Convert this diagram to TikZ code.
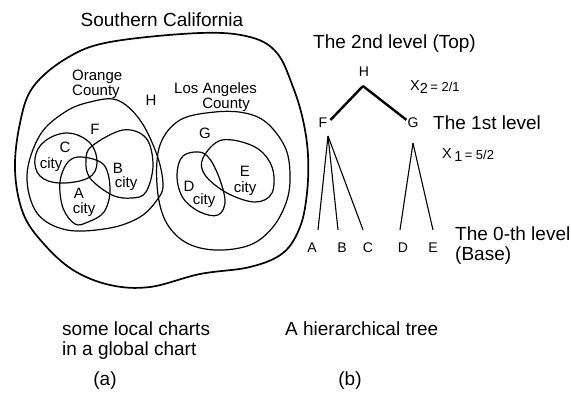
\documentclass[tikz,border=0pt]{standalone}
\usepackage{fontspec}
\setmainfont{Liberation Sans}
\begin{document}
\begin{tikzpicture}[x=1pt,y=-1pt,
  big/.style={font=\fontsize{19}{20}\selectfont, inner sep=0pt},
  lab/.style={font=\fontsize{15}{13.5}\selectfont, inner sep=0pt},
  tlab/.style={font=\fontsize{14}{16}\selectfont, inner sep=0pt},
  xlab/.style={font=\fontsize{14.5}{16}\selectfont, inner sep=0pt},
  region/.style={line width=1.2pt},
  outer/.style={line width=1.7pt},
  toplink/.style={line width=2.4pt},
  leaflink/.style={line width=1.1pt}]
\useasboundingbox (0,0) rectangle (571,397);

% ---------- (a) charts ----------
\node[big, anchor=base] (sc) at (162,26) {Southern California};

\draw[outer] plot[smooth cycle, tension=0.6] coordinates {
  (110,42) (200,33) (250,37) (277,53) (293,87) (303,120) (308,155)
  (307,193) (300,227) (283,253) (250,267) (200,274) (150,287)
  (110,285) (73,270) (43,243) (23,213) (15,170) (20,123) (33,87) (67,58)};

% Orange County
\draw[region] plot[smooth cycle, tension=0.6] coordinates {
  (117,100) (140,120) (157,155) (163,185) (157,200) (140,217) (110,228)
  (67,230) (37,213) (27,175) (40,135) (65,112) (90,102)};
% Los Angeles County
\draw[region] plot[smooth cycle, tension=0.6] coordinates {
  (215,112) (245,113) (267,123) (285,147) (290,173) (287,200) (273,227)
  (250,245) (215,250) (185,242) (165,220) (157,185) (160,145) (180,120)};

% C city
\draw[region] plot[smooth cycle, tension=0.65] coordinates {
  (45,141) (68,133) (90,143) (97,163) (88,178) (60,183) (40,176) (35,158)};
% A city
\draw[region] plot[smooth cycle, tension=0.6] coordinates {
  (82,157) (104,165) (110,190) (104,212) (88,222) (75,224) (63,208) (60,182) (68,162)};
% B city
\draw[region] plot[smooth cycle, tension=0.6] coordinates {
  (92,146) (123,130) (146,138) (153,165) (146,192) (132,198) (112,195) (90,178) (86,160)};
% D city
\draw[region] plot[smooth cycle, tension=0.6] coordinates {
  (183,156) (203,153) (216,170) (225,200) (218,215) (200,212) (183,198) (177,176)};
% E city
\draw[region] plot[smooth cycle, tension=0.6] coordinates {
  (222,140) (255,147) (272,167) (272,193) (255,202) (227,193) (205,175) (203,158)};

\node[lab, anchor=base west, align=left] (oc) at (72,95) {Orange\\County};
\node[lab, font=\fontsize{15}{15}\selectfont, anchor=base east, align=right] (la) at (257,108) {Los Angeles\\County\hspace*{7pt}};
\node[lab] (rH) at (151,100) {H};
\node[lab] (rF) at (95,129) {F};
\node[lab] (rG) at (205,133) {G};
\node[lab] (rC) at (65,147) {C};
\node[lab, anchor=base] (cC) at (51,168) {city};
\node[lab] (rB) at (118,168) {B};
\node[lab, anchor=base] (cB) at (126,187) {city};
\node[lab] (rA) at (79,193) {A};
\node[lab, anchor=base] (cA) at (84,213) {city};
\node[lab] (rD) at (189,186) {D};
\node[lab, anchor=base] (cD) at (204,204) {city};
\node[lab] (rE) at (245,171) {E};
\node[lab, anchor=base] (cE) at (245,192) {city};

\node[big, anchor=base west, align=left] (capa) at (62,355) {some local charts\\in a global chart};
\node[big, anchor=base] (pa) at (105,385) {(a)};

% ---------- (b) tree ----------
\node[big, anchor=base west] (l2) at (313,48) {The 2nd level (Top)};
\node[big, anchor=base west] (l1) at (433,129) {The 1st level};
\node[big, anchor=base west, align=left] (l0) at (455,260) {The 0-th level\\(Base)};

\node[tlab] (tH) at (364,72) {H};
\node[tlab] (tF) at (323,123) {F};
\node[tlab] (tG) at (413,123) {G};
\node[tlab] (tA) at (312,248) {A};
\node[tlab] (tB) at (342,248) {B};
\node[tlab] (tC) at (368,248) {C};
\node[tlab] (tD) at (403,248) {D};
\node[tlab] (tE) at (433,248) {E};

\node[xlab, anchor=base west] (x2) at (410,90) {X\raisebox{-3pt}{2}\,\raisebox{-1.5pt}{\fontsize{13}{14}\selectfont = 2/1}};
\node[xlab, anchor=base west] (x1) at (442,158) {X\raisebox{-3pt}{\,1}\,\raisebox{-1.5pt}{\fontsize{13}{14}\selectfont = 5/2}};

\draw[toplink, line cap=butt] ([xshift=-1pt, yshift=-9pt]tH.south) coordinate (hj) -- ([xshift=3pt, yshift=-2pt]tF.north east);
\draw[toplink] (hj) -- ([xshift=-1pt, yshift=-2pt]tG.north west);

\coordinate (fj) at ([xshift=5pt, yshift=-8pt]tF.south);
\coordinate (gj) at ([xshift=0pt, yshift=-15pt]tG.south);
\draw[leaflink] (fj) -- ([xshift=6pt, yshift=13pt]tA.north);
\draw[leaflink] (fj) -- ([xshift=-4pt, yshift=13pt]tB.north);
\draw[leaflink] (fj) -- ([xshift=-5pt, yshift=13pt]tC.north);
\draw[leaflink] (gj) -- ([xshift=-3pt, yshift=13pt]tD.north);
\draw[leaflink] (gj) -- ([xshift=0pt, yshift=13pt]tE.north);

\node[big, anchor=base west] (capb) at (285,335) {A hierarchical tree};
\node[big, anchor=base] (pb) at (350,385) {(b)};
\end{tikzpicture}
\end{document}
